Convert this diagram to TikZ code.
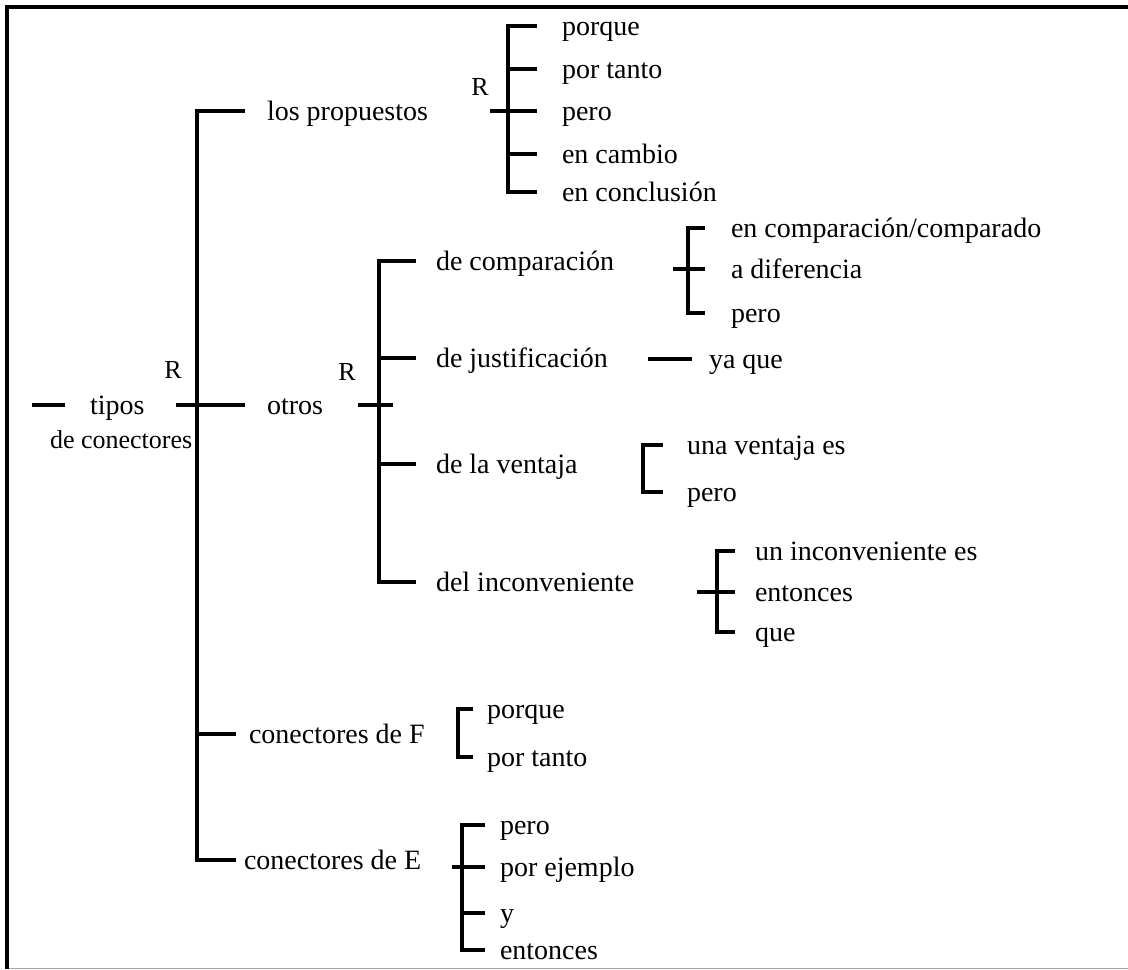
\documentclass[tikz,border=0pt]{standalone}
\usepackage{fontspec}
\setmainfont{Liberation Serif}
\usetikzlibrary{calc}

\begin{document}
\begin{tikzpicture}[x=0.5pt,y=-0.5pt,line width=2pt,
  txt/.style={anchor=west,inner ysep=0pt,inner xsep=#1,text height=9pt,text depth=0pt,font=\fontsize{14}{16}\selectfont},
  txt/.default=0pt,
  rlabel/.style={inner sep=0pt,font=\fontsize{13}{15}\selectfont}]
  \useasboundingbox (0,0) rectangle (1128,969);
  \draw (5,7) -- (1128,7);
  \draw (7,5) -- (7,969);
  \draw[line width=0.5pt,black!35] (9,968) -- (1128,968);

  \node[txt] (root) at (88,405) {tipos};
  \node[txt,font=\fontsize{13}{15}\selectfont] (rootb) at (48,439) {de conectores};
  \node[rlabel] (r0) at (173,370) {R};
  \node[txt=10pt] (prop) at (245,111) {los propuestos};
  \node[txt=10pt] (otros) at (245,405) {otros};
  \node[txt=5.5pt] (conF) at (236,734) {conectores de F};
  \node[txt=3pt] (conE) at (236,860) {conectores de E};
  \coordinate (sp0) at (197,0);
  \draw ($(root.west)+(-23,0)$) -- ++(-33,0);
  \draw ($(root.east)+(30,0)$) -- (otros.west);
  \draw (prop.west) -- (prop.west -| sp0) -- (conE.west -| sp0) -- (conE.west);
  \draw (conF.west -| sp0) -- (conF.west);

  \node[rlabel] (r1) at (480,87) {R};
  \node[txt=11.5pt] (p1) at (537,26) {porque};
  \node[txt=11.5pt] (p2) at (537,69) {por tanto};
  \node[txt=11.5pt] (p3) at (537,111) {pero};
  \node[txt=11.5pt] (p4) at (537,154) {en cambio};
  \node[txt=11.5pt] (p5) at (537,192) {en conclusión};
  \draw (p1.west) -- ++(-29,0) |- (p5.west);
  \draw (p2.west) -- ++(-29,0);
  \draw ($(p3.west)+(-47,0)$) -- (p3.west);
  \draw (p4.west) -- ++(-29,0);

  \node[rlabel] (r2) at (347,372) {R};
  \node[txt=9pt] (comp) at (416,261) {de comparación};
  \node[txt=9pt] (just) at (416,358) {de justificación};
  \node[txt=9pt] (vent) at (416,464) {de la ventaja};
  \node[txt=9pt] (inco) at (416,582) {del inconveniente};
  \coordinate (sp2) at (379,0);
  \draw ($(otros.east)+(13,0)$) -- ++(35,0);
  \draw (comp.west) -- (comp.west -| sp2) -- (inco.west -| sp2) -- (inco.west);
  \draw (just.west -| sp2) -- (just.west);
  \draw (vent.west -| sp2) -- (vent.west);

  \node[txt=12pt] (c1) at (705,228) {en comparación/comparado};
  \node[txt=12pt] (c2) at (705,269) {a diferencia};
  \node[txt=12pt] (c3) at (705,313) {pero};
  \draw (c1.west) -- ++(-17,0) |- (c3.west);
  \draw ($(c2.west)+(-32,0)$) -- (c2.west);

  \node[txt=7.5pt] (ya) at (692,359) {ya que};
  \draw ($(ya.west)+(-44,0)$) -- (ya.west);

  \node[txt=11pt] (v1) at (663,445) {una ventaja es};
  \node[txt=11pt] (v2) at (663,492) {pero};
  \draw (v1.west) -- ++(-20,0) |- (v2.west);

  \node[txt=9pt] (i1) at (735,551) {un inconveniente es};
  \node[txt=9pt] (i2) at (735,592) {entonces};
  \node[txt=9pt] (i3) at (735,632) {que};
  \draw (i1.west) -- ++(-18,0) |- (i3.west);
  \draw ($(i2.west)+(-38,0)$) -- (i2.west);

  \node[txt=6pt] (f1) at (473,709) {porque};
  \node[txt=6pt] (f2) at (473,757) {por tanto};
  \draw (f1.west) -- ++(-15,0) |- (f2.west);

  \node[txt=6.5pt] (e1) at (485,825) {pero};
  \node[txt=6.5pt] (e2) at (485,867) {por ejemplo};
  \node[txt=6.5pt] (e3) at (485,913) {y};
  \node[txt=6.5pt] (e4) at (485,950) {entonces};
  \draw (e1.west) -- ++(-23,0) |- (e4.west);
  \draw ($(e2.west)+(-33,0)$) -- (e2.west);
  \draw ($(e3.west)+(-23,0)$) -- (e3.west);
\end{tikzpicture}
\end{document}
